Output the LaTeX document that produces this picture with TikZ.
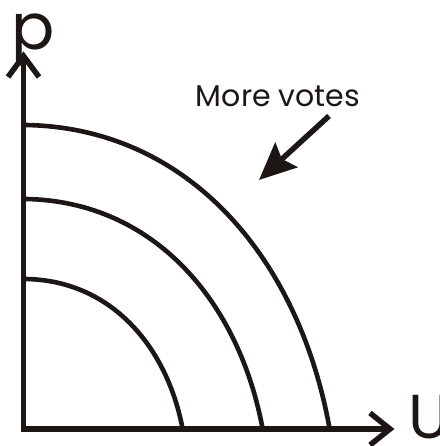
\documentclass[tikz,border=0pt]{standalone}
\usepackage{fontspec}
\setmainfont{Poppins}
\usetikzlibrary{arrows.meta}
\definecolor{ink}{RGB}{28,23,20}
\begin{document}
\begin{tikzpicture}[x=1pt,y=-1pt,
  axis/.style={draw=ink,line width=5.5pt},
  curve/.style={draw=ink,line width=4.6pt},
  lbl/.style={inner sep=0pt,text=ink}]
\useasboundingbox (0,0) rectangle (439,446);
\clip (0,0) rectangle (439,446);
% axes
\coordinate (O) at (23.5,429);
\coordinate (ytip) at (23.5,56);
\coordinate (xtip) at (390,429);
\draw[axis,line cap=butt] (23.5,432) -- (ytip);
\draw[axis] (20.75,429) -- (xtip);
\draw[axis,miter limit=10] (8,77) -- (ytip) -- (39,77);
\draw[axis,miter limit=10] (370,413) -- (xtip) -- (370,445);
% curves
\draw[curve] (26,125) .. controls (190,128) and (300,260) .. (330,431);
\draw[curve] (26,199) .. controls (153.6,201.3) and (239.6,301.2) .. (263,431);
\draw[curve] (26,279) .. controls (110.3,280.5) and (167.5,345.6) .. (183,431);
% labels
\node[lbl,anchor=base west,font=\fontsize{64}{64}\selectfont] (P) at (11,50) {p};
\node[lbl,anchor=north west,font=\fontsize{62}{62}\selectfont] (U) at (408,395) {U};
\node[lbl,anchor=base,font=\fontsize{30}{30}\selectfont] (more) at (278,107) {More votes};
% arrow
\coordinate (a1) at (329,116);
\coordinate (a2) at (259,180);
\draw[ink,line width=5.5pt,-{Stealth[length=37pt,width=33pt,inset=6pt]}] (a1) -- (a2);
\end{tikzpicture}
\end{document}
